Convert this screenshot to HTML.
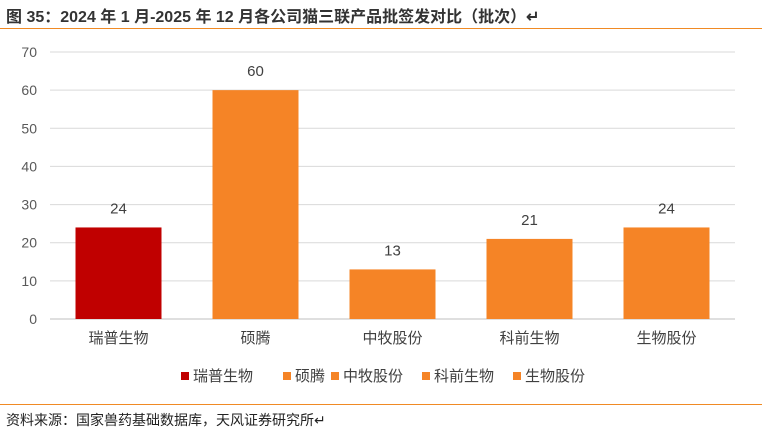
<!DOCTYPE html>
<html><head><meta charset="utf-8"><style>
body{margin:0;width:762px;height:436px;background:#fff;font-family:"Liberation Sans","Noto Sans CJK SC",sans-serif;overflow:hidden;position:relative}
.t{position:absolute;left:6px;top:3px;font-size:16px;font-weight:bold;color:#333}
.hl{position:absolute;left:0;width:762px;height:1px;background:#f08a24}
.src{position:absolute;left:6px;top:410px;font-size:14px;color:#222}
</style></head><body>
<div class="t">图 35：2024 年 1 月-2025 年 12 月各公司猫三联产品批签发对比（批次）↵</div>
<div class="hl" style="top:28px"></div>
<svg id="c" width="762" height="400" style="position:absolute;left:0;top:0"></svg>
<div class="hl" style="top:404px"></div>
<div class="src">资料来源：国家兽药基础数据库，天风证券研究所↵</div>
<script>
const categories=["瑞普生物","硕腾","中牧股份","科前生物","生物股份"];
const values=[24,60,13,21,24];
const colors=["#c00000","#f58426","#f58426","#f58426","#f58426"];
const ticks=[0,10,20,30,40,50,60,70];
const NS="http://www.w3.org/2000/svg";
const svg=document.getElementById('c');
const x0=50,x1=735,yZero=319,yTop=52,yMax=70;
const y=v=>yZero-(v/yMax)*(yZero-yTop);
const step=(x1-x0)/categories.length;
const xc=i=>x0+step*(i+0.5);
function mk(t,a,txt){const e=document.createElementNS(NS,t);for(const k in a)e.setAttribute(k,a[k]);if(txt!=null)e.textContent=txt;svg.appendChild(e);return e;}
ticks.forEach(t=>{
 const g=mk('line',{x1:x0,x2:x1,y1:y(t),y2:y(t),stroke:t===0?'#bfbfbf':'#d9d9d9','stroke-width':1});
 
 
 const l=mk('text',{x:37,y:y(t)+5,'text-anchor':'end','font-size':14,fill:'#595959','font-family':'Liberation Sans'},t);
 
 
});
categories.forEach((c,i)=>{
 const w=86;
 const b=mk('rect',{x:xc(i)-w/2,y:y(values[i]),width:w,height:yZero-y(values[i]),fill:colors[i]});
 
 
 const v=mk('text',{x:xc(i),y:y(values[i])-14,'text-anchor':'middle','font-size':15,fill:'#404040'},values[i]);
 
 
 const cl=mk('text',{x:xc(i),y:343,'text-anchor':'middle','font-size':15,fill:'#404040','font-family':'Liberation Sans, Noto Sans CJK SC, sans-serif'},c);
 
 
});
const lx=[181,283,331,422,513];
categories.forEach((c,i)=>{
 const r=mk('rect',{x:lx[i],y:372,width:8,height:8,fill:colors[i]});
 
 
 const t=mk('text',{x:lx[i]+12,y:381,'font-size':15,fill:'#404040','font-family':'Liberation Sans, Noto Sans CJK SC, sans-serif'},c);
 
 
});
</script>
</body></html>
